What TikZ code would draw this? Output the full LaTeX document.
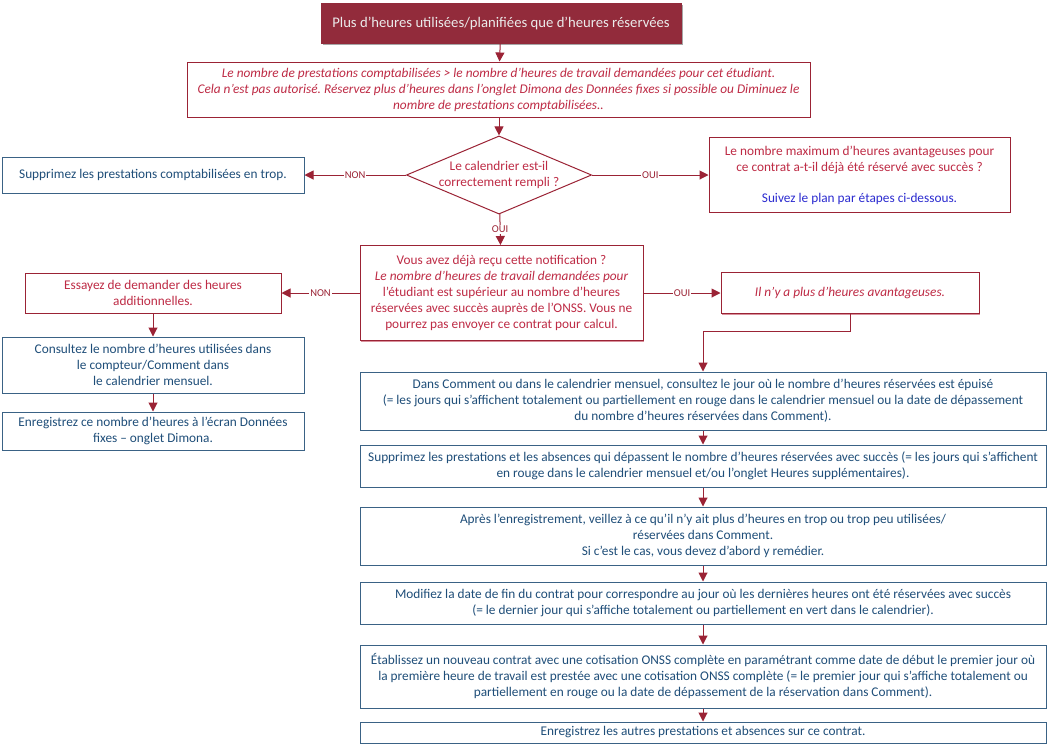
\documentclass[tikz,border=0pt]{standalone}
\usepackage{fontspec}
\setmainfont{Carlito}
\usepackage{tikz}
\usetikzlibrary{arrows.meta,shapes.geometric,shadows}
\frenchspacing
\definecolor{TitleRed}{HTML}{922B3B}
\definecolor{LineRed}{HTML}{9B2335}
\definecolor{TextRed}{HTML}{BE2B45}
\definecolor{ShadeRed}{HTML}{D9909B}
\definecolor{BorderBlue}{HTML}{3A6285}
\definecolor{TextBlue}{HTML}{1F4E79}
\definecolor{LinkBlue}{HTML}{2B2BD0}
\newcommand\nodetitle{Plus d’heures utilisées/planifiées que d’heures réservées}
\newcommand\noderule{Le nombre de prestations comptabilisées > le nombre d’heures de travail demandées pour cet étudiant.\\Cela n’est pas autorisé. Réservez plus d’heures dans l’onglet Dimona des Données fixes si possible ou Diminuez le\\nombre de prestations comptabilisées..}
\newcommand\nodecal{Le calendrier est-il\\correctement rempli ?}
\newcommand\nodetrop{Supprimez les prestations comptabilisées en trop.}
\newcommand\nodemax{Le nombre maximum d’heures avantageuses pour\\ce contrat a-t-il déjà été réservé avec succès ?\\[15pt]\textcolor{LinkBlue}{Suivez le plan par étapes ci-dessous.}}
\newcommand\nodenotif{Vous avez déjà reçu cette notification ?\\\itshape Le nombre d’heures de travail demandées pour\\l’étudiant est supérieur au nombre d’heures\\réservées avec succès auprès de l’ONSS. Vous ne\\pourrez pas envoyer ce contrat pour calcul.}
\newcommand\nodeaddh{Essayez de demander des heures\\additionnelles.}
\newcommand\nodecons{Consultez le nombre d’heures utilisées dans\\le compteur/Comment dans\\le calendrier mensuel.}
\newcommand\nodeenr{Enregistrez ce nombre d’heures à l’écran Données\\fixes – onglet Dimona.}
\newcommand\nodenoav{Il n’y a plus d’heures avantageuses.}
\newcommand\nodesa{Dans Comment ou dans le calendrier mensuel, consultez le jour où le nombre d’heures réservées est épuisé\\(= les jours qui s’affichent totalement ou partiellement en rouge dans le calendrier mensuel ou la date de dépassement\\du nombre d’heures réservées dans Comment).}
\newcommand\nodesb{Supprimez les prestations et les absences qui dépassent le nombre d’heures réservées avec succès (= les jours qui s’affichent\\en rouge dans le calendrier mensuel et/ou l’onglet Heures supplémentaires).}
\newcommand\nodesc{Après l’enregistrement, veillez à ce qu’il n’y ait plus d’heures en trop ou trop peu utilisées/\\réservées dans Comment.\\Si c’est le cas, vous devez d’abord y remédier.}
\newcommand\nodesd{Modifiez la date de fin du contrat pour correspondre au jour où les dernières heures ont été réservées avec succès\\(= le dernier jour qui s’affiche totalement ou partiellement en vert dans le calendrier).}
\newcommand\nodese{Établissez un nouveau contrat avec une cotisation ONSS complète en paramétrant comme date de début le premier jour où\\la première heure de travail est prestée avec une cotisation ONSS complète (= le premier jour qui s’affiche totalement ou\\partiellement en rouge ou la date de dépassement de la réservation dans Comment).}
\newcommand\nodesf{Enregistrez les autres prestations et absences sur ce contrat.}
\tikzstyle{mynodestyle} = [rectangle, inner sep=0pt, align=center, line width=1pt, fill=white, font=\fontsize{13.3}{16}\selectfont]
\tikzstyle{tn} = [mynodestyle, fill=TitleRed, draw=TitleRed, text=white!92!black, font=\fontsize{14.7}{17}\selectfont, drop shadow={shadow xshift=2pt, shadow yshift=-2pt, fill=black!35, opacity=1}]
\tikzstyle{rn} = [mynodestyle, draw=LineRed, text=TextRed]
\tikzstyle{rsn} = [rn, drop shadow={shadow xshift=1pt, shadow yshift=-1.2pt, fill=ShadeRed, opacity=1}]
\tikzstyle{bn} = [mynodestyle, draw=BorderBlue, text=TextBlue]
\tikzstyle{lbl} = [fill=white, inner sep=1pt, text=LineRed, font=\fontsize{10.5}{12}\selectfont]
\tikzset{>={Triangle[length=9pt,width=9pt]}, every picture/.style={line width=1pt}}

\begin{document}
\begin{tikzpicture}[x=1pt, y=-1pt]
\useasboundingbox (0,0) rectangle (1051,748);
\node[tn, minimum width=360pt, minimum height=40pt] (title) at (501, 23) {\nodetitle};
\node[rsn, font=\fontsize{13.3}{16}\selectfont\itshape, minimum width=623pt, minimum height=55pt] (rule) at (498.5, 89.5) {\noderule};
\node[rn, shape=diamond, aspect=2.37, minimum width=178pt, minimum height=75pt] (cal) at (499, 175) {\nodecal};
\node[bn, minimum width=302pt, minimum height=36pt] (trop) at (153, 175) {\nodetrop};
\node[rn, minimum width=301pt, minimum height=75pt] (max) at (859.5, 175) {\nodemax};
\node[rsn, minimum width=283pt, minimum height=95pt] (notif) at (501.5, 293) {\nodenotif};
\node[rn, minimum width=256pt, minimum height=40pt] (addh) at (153, 293) {\nodeaddh};
\node[bn, minimum width=302pt, minimum height=56pt] (cons) at (153, 365) {\nodecons};
\node[bn, minimum width=302pt, minimum height=38pt] (enr) at (153, 431) {\nodeenr};
\node[rsn, font=\fontsize{13.3}{16}\selectfont\itshape, minimum width=258pt, minimum height=41pt] (noav) at (850, 293) {\nodenoav};
\node[bn, minimum width=686pt, minimum height=58pt] (sa) at (703, 401) {\nodesa};
\node[bn, minimum width=686pt, minimum height=42pt] (sb) at (703, 466) {\nodesb};
\node[bn, minimum width=686pt, minimum height=58pt] (sc) at (703, 536) {\nodesc};
\node[bn, minimum width=686pt, minimum height=42pt] (sd) at (703, 603) {\nodesd};
\node[bn, minimum width=686pt, minimum height=63pt] (se) at (703, 676.5) {\nodese};
\node[bn, minimum width=686pt, minimum height=21pt] (sf) at (703, 732.5) {\nodesf};
\begin{scope}[draw=LineRed, ->]
\draw (title) -- (rule);
\draw (rule.south -| cal.north) -- (cal);
\draw (cal) -- node[lbl] {NON} (trop);
\draw (cal) -- node[lbl] {OUI} (max);
\draw (cal) -- node[lbl] {OUI} (notif);
\draw (notif) -- node[lbl] {NON} (addh);
\draw (addh) -- (cons);
\draw (cons) -- (enr);
\draw (notif) -- node[lbl] {OUI} (noav);
\draw (noav.south) -- ++(0,17) -| (sa.north);
\draw (sa) -- (sb);
\draw (sb) -- (sc);
\draw (sc) -- (sd);
\draw (sd) -- (se);
\draw (se) -- (sf);
\end{scope}
\end{tikzpicture}
\end{document}
